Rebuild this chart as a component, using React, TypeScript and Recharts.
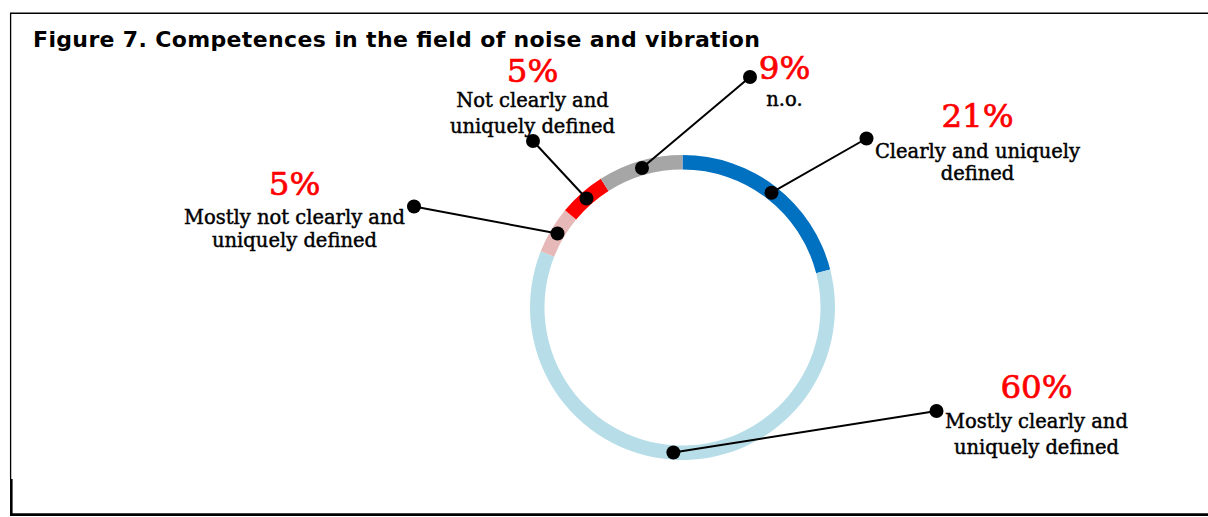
import React from 'react';
import { PieChart, Pie, Cell } from 'recharts';

const categories = [
  'Clearly and uniquely defined',
  'Mostly clearly and uniquely defined',
  'Mostly not clearly and uniquely defined',
  'Not clearly and uniquely defined',
  'n.o.',
];
const values = [21, 60, 5, 5, 9];
const labelLines = [
  ['Clearly and uniquely', 'defined'],
  ['Mostly clearly and', 'uniquely defined'],
  ['Mostly not clearly and', 'uniquely defined'],
  ['Not clearly and', 'uniquely defined'],
  ['n.o.'],
];
const colors = ['#0070C0', '#B7DEE8', '#E6B9B8', '#FF0000', '#A6A6A6'];
const title = 'Figure 7. Competences in the field of noise and vibration';

// layout (offsets from the pie centre): end dot, text centre x, percent baseline, line baselines
const labelLayout = [
  { dot: [184, -169], tx: 295, pct: -180.5, lines: [-149.5, -127.5] },
  { dot: [254, 103.5], tx: 354, pct: 90.5, lines: [120.5, 146.5] },
  { dot: [-268.5, -101], tx: -388, pct: -112.5, lines: [-83.5, -60.5] },
  { dot: [-149.5, -166.5], tx: -150, pct: -225.5, lines: [-200.5, -174.5] },
  { dot: [67.5, -230.5], tx: 102, pct: -228.5, lines: [-201.5] },
];

const data = categories.map((name, i) => ({ name, value: values[i] }));

const SERIF = '"DejaVu Serif", serif';
const RAD = Math.PI / 180;

const renderLabel = (props: any) => {
  const { cx, cy, midAngle, innerRadius, outerRadius, index, value } = props;
  const r = (innerRadius + outerRadius) / 2;
  const x0 = cx + r * Math.cos(-midAngle * RAD);
  const y0 = cy + r * Math.sin(-midAngle * RAD);
  const L = labelLayout[index];
  const x1 = cx + L.dot[0];
  const y1 = cy + L.dot[1];
  return (
    <g key={`lbl-${index}`}>
      <line x1={x0} y1={y0} x2={x1} y2={y1} stroke="#000" strokeWidth={2} />
      <circle cx={x0} cy={y0} r={7} fill="#000" />
      <circle cx={x1} cy={y1} r={7} fill="#000" />
      <text x={cx + L.tx} y={cy + L.pct} textAnchor="middle" fill="#FF0000" stroke="#FF0000" strokeWidth={0.7} fontFamily={SERIF} fontSize={32.5}>
        {`${value}%`}
      </text>
      {labelLines[index].map((t, j) => (
        <text key={j} x={cx + L.tx} y={cy + L.lines[j]} textAnchor="middle" fill="#000" stroke="#000" strokeWidth={0.45} fontFamily={SERIF} fontSize={19.5}>
          {t}
        </text>
      ))}
    </g>
  );
};

export default function App() {
  return (
    <div style={{ position: 'absolute', left: 0, top: 0, width: 1208, height: 517, background: '#fff' }}>
      <svg width={1208} height={517} style={{ position: 'absolute', left: 0, top: 0 }}>
        <line x1={10} y1={13.3} x2={1208} y2={13.3} stroke="#000" strokeWidth={1.5} />
        <line x1={10.6} y1={13} x2={10.6} y2={479} stroke="#000" strokeWidth={1.3} />
        <line x1={11.3} y1={479} x2={11.3} y2={516} stroke="#000" strokeWidth={2.6} />
        <line x1={10} y1={514.6} x2={1208} y2={514.6} stroke="#000" strokeWidth={2.6} />
        <text x={33} y={47} fontFamily='"DejaVu Sans", sans-serif' fontWeight={700} fontSize={22} textLength={727} lengthAdjust="spacing" fill="#000">
          {title}
        </text>
      </svg>
      <div style={{ position: 'absolute', left: 0, top: 0 }}>
        <PieChart width={1208} height={517} margin={{ top: 0, right: 0, bottom: 0, left: 0 }}>
          <Pie
            data={data}
            dataKey="value"
            nameKey="name"
            cx={682.5}
            cy={307.5}
            innerRadius={138}
            outerRadius={152.5}
            startAngle={90}
            endAngle={-270}
            stroke="none"
            isAnimationActive={false}
            labelLine={false}
            label={renderLabel}
          >
            {data.map((d, i) => (
              <Cell key={d.name} fill={colors[i]} stroke="none" />
            ))}
          </Pie>
        </PieChart>
      </div>
    </div>
  );
}
